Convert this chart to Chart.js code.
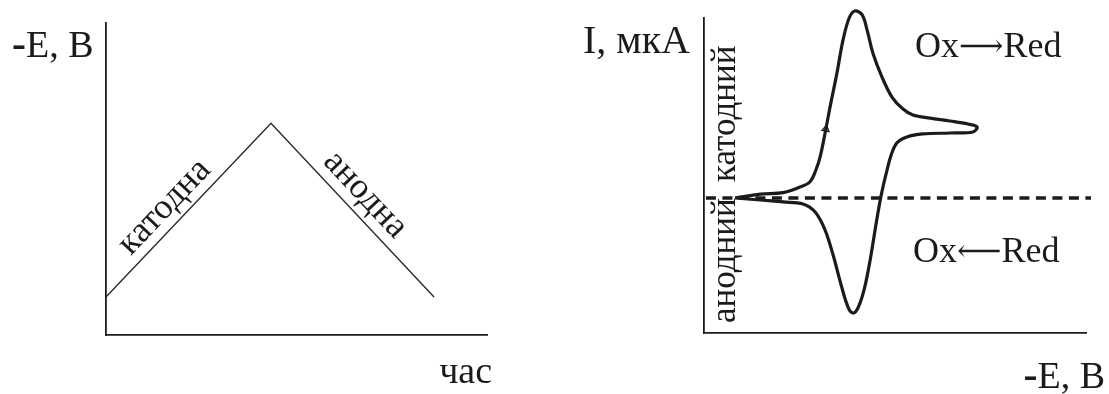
<!DOCTYPE html>
<html>
<head>
<meta charset="utf-8">
<script src="https://cdn.jsdelivr.net/npm/chart.js@4/dist/chart.umd.min.js"></script>
<style>
  html, body { margin: 0; padding: 0; background: #fff; }
  #wrap { position: relative; width: 1109px; height: 394px; overflow: hidden; }
  canvas { position: absolute; top: 0; }
  #sweep { left: 0; }
  #cv { left: 554px; }
</style>
</head>
<body>
<div id="wrap">
  <canvas id="sweep" width="554" height="394"></canvas>
  <canvas id="cv" width="555" height="394"></canvas>
</div>
<script>
// Triangular potential sweep: time (x) against -E (y)
const sweepTime = [0, 4.33, 8.61];
const sweepPotential = [1.22, 6.79, 1.22];
const sweepLabels = ['катодна', 'анодна'];

// Cyclic voltammogram: -E (x) against I (y)
const cvPotential = [
  0.81, 1.47, 2.07, 2.51, 2.77, 2.93, 3.04, 3.17, 3.30, 3.48, 3.64, 3.80, 3.95,
  4.14, 4.27, 4.42, 4.66, 4.92, 5.21, 5.47, 5.92, 6.44, 6.91, 7.15,
  7.04, 6.44, 5.73, 5.31, 5.05, 4.90, 4.76, 4.63, 4.50, 4.35, 4.19, 4.03, 3.90,
  3.77, 3.59, 3.38, 3.17, 2.91, 2.59, 2.07, 1.47, 0.81
];
const cvCurrent = [
  0.00, 0.22, 0.30, 0.61, 0.89, 1.56, 2.28, 3.61, 5.06, 6.94, 8.78, 10.00, 10.39,
  10.17, 9.33, 8.06, 6.72, 5.61, 4.94, 4.61, 4.44, 4.28, 4.11, 3.94,
  3.67, 3.61, 3.56, 3.39, 3.06, 2.39, 1.28, 0.06, -1.50, -3.44, -5.11, -6.11, -6.39,
  -6.06, -4.83, -3.17, -1.78, -0.78, -0.33, -0.22, -0.11, 0.00
];
const zeroLinePotential = [0.05, 10.13];
const zeroLineCurrent = [0, 0];
const scanArrow = { x: 3.19, y: 3.83 };
const branchLabels = ['катодний', 'анодний'];
const reactionSpecies = ['Ox', 'Red'];
const reactionArrows = ['⟶', '⟵'];
const axisTitles = { sweepY: 'E, B', sweepX: 'час', cvY: 'I, мкА', cvX: 'E, B' };

const INK = '#1b1b1b';
const SERIF = '"Liberation Serif", "DejaVu Serif", serif';
const font = (px, bold) => (bold ? 'bold ' : '') + px + 'px ' + SERIF;

function bareAxis(min, max) {
  return {
    type: 'linear', min, max,
    grid: { display: false, drawTicks: false },
    ticks: { display: false },
    border: { display: true, color: INK, width: 1.8 }
  };
}

// "-E, B" style title: heavy minus followed by the regular text
function dashTitle(ctx, rest, x, baseline, size, alignRight) {
  ctx.font = font(size + 4, true);
  const wd = ctx.measureText('-').width;
  ctx.font = font(size);
  const wr = ctx.measureText(rest).width;
  const x0 = alignRight ? x - wd - wr : x;
  ctx.textAlign = 'left';
  ctx.font = font(size + 4, true);
  ctx.fillText('-', x0, baseline);
  ctx.font = font(size);
  ctx.fillText(rest, x0 + wd, baseline);
}

// "Ox → Red" with a slightly smaller arrow glyph
function reaction(ctx, arrow, x, baseline) {
  ctx.textAlign = 'left';
  ctx.font = font(36);
  ctx.fillText(reactionSpecies[0], x, baseline);
  let cx = x + ctx.measureText(reactionSpecies[0]).width;
  ctx.font = font(31);
  ctx.fillText(arrow, cx, baseline - 1);
  cx += ctx.measureText(arrow).width;
  ctx.font = font(36);
  ctx.fillText(reactionSpecies[1], cx, baseline);
}

// text laid along a segment, on its outer side
function labelAlong(ctx, text, p0, p1, frac, offset) {
  const ang = Math.atan2(p1.y - p0.y, p1.x - p0.x);
  ctx.save();
  ctx.translate(p0.x + (p1.x - p0.x) * frac, p0.y + (p1.y - p0.y) * frac);
  ctx.rotate(ang);
  ctx.textAlign = 'center';
  ctx.textBaseline = 'alphabetic';
  ctx.fillText(text, 0, -offset);
  ctx.restore();
}

function verticalText(ctx, text, x, yStart) {
  ctx.save();
  ctx.translate(x, yStart);
  ctx.rotate(-Math.PI / 2);
  ctx.textAlign = 'left';
  ctx.textBaseline = 'alphabetic';
  ctx.fillText(text, 0, 0);
  ctx.restore();
}

const sweepText = {
  id: 'sweepText',
  afterDraw(chart) {
    const { ctx, chartArea: a, scales: { x, y } } = chart;
    ctx.save();
    ctx.fillStyle = INK;
    dashTitle(ctx, axisTitles.sweepY, a.left - 94, a.top + 34, 38, false);
    ctx.font = font(38);
    ctx.textAlign = 'right';
    ctx.fillText(axisTitles.sweepX, a.right + 5, a.bottom + 48);
    ctx.font = font(36);
    const pts = sweepTime.map((t, i) => ({ x: x.getPixelForValue(t), y: y.getPixelForValue(sweepPotential[i]) }));
    labelAlong(ctx, sweepLabels[0], pts[0], pts[1], 0.44, 10);
    labelAlong(ctx, sweepLabels[1], pts[1], pts[2], 0.49, 10.5);
    ctx.restore();
  }
};

const cvText = {
  id: 'cvText',
  afterDraw(chart) {
    const { ctx, chartArea: a } = chart;
    ctx.save();
    ctx.fillStyle = INK;
    ctx.font = font(40);
    ctx.textAlign = 'left';
    ctx.fillText(axisTitles.cvY, a.left - 121, a.top + 35);
    reaction(ctx, reactionArrows[0], a.left + 211, a.top + 39);
    reaction(ctx, reactionArrows[1], a.left + 209, a.top + 244);
    dashTitle(ctx, axisTitles.cvX, a.right + 19, a.bottom + 55, 38, true);
    ctx.font = font(35);
    verticalText(ctx, branchLabels[0], a.left + 31, a.top + 164);
    verticalText(ctx, branchLabels[1], a.left + 31, a.top + 305);
    ctx.restore();
  }
};

const common = {
  responsive: false,
  animation: false,
  devicePixelRatio: 1,
  events: [],
  plugins: { legend: { display: false }, tooltip: { enabled: false } }
};

new Chart(document.getElementById('sweep'), {
  type: 'scatter',
  data: {
    datasets: [{
      data: sweepTime.map((t, i) => ({ x: t, y: sweepPotential[i] })),
      showLine: true,
      borderColor: '#2a2a2a',
      borderWidth: 1.4,
      pointRadius: 0,
      tension: 0,
      clip: false
    }]
  },
  options: {
    ...common,
    layout: { padding: { left: 106, top: 23, right: 67, bottom: 59 } },
    scales: { x: bareAxis(0, 10), y: bareAxis(0, 10) }
  },
  plugins: [sweepText]
});

new Chart(document.getElementById('cv'), {
  type: 'scatter',
  data: {
    datasets: [
      {
        data: [scanArrow],
        pointStyle: 'triangle',
        pointRadius: 4,
        rotation: 11,
        borderColor: INK,
        borderWidth: 1.4,
        backgroundColor: 'rgba(0,0,0,0)',
        showLine: false,
        clip: false
      },
      {
        data: cvPotential.map((p, i) => ({ x: p, y: cvCurrent[i] })),
        showLine: true,
        borderColor: INK,
        borderWidth: 3.2,
        pointRadius: 0,
        tension: 0.35,
        clip: false
      },
      {
        data: zeroLinePotential.map((p, i) => ({ x: p, y: zeroLineCurrent[i] })),
        showLine: true,
        borderColor: INK,
        borderWidth: 3.5,
        borderDash: [10, 6.5],
        pointRadius: 0,
        clip: false
      }
    ]
  },
  options: {
    ...common,
    layout: { padding: { left: 150, top: 18, right: 23, bottom: 61 } },
    scales: { x: bareAxis(0, 10), y: bareAxis(-7.5, 10) }
  },
  plugins: [cvText]
});
</script>
</body>
</html>
